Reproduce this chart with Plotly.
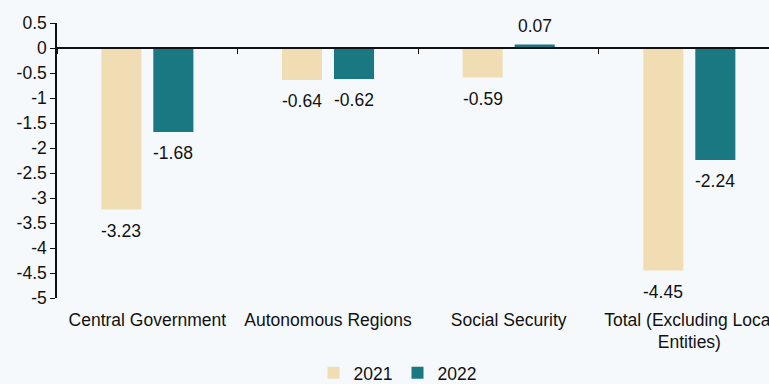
import plotly.graph_objects as go

categories = ["Central Government", "Autonomous Regions", "Social Security",
              "Total (Excluding Local<br>Entities)"]
values_2021 = [-3.23, -0.64, -0.59, -4.45]
values_2022 = [-1.68, -0.62, 0.07, -2.24]
y_ticks = [0.5, 0, -0.5, -1, -1.5, -2, -2.5, -3, -3.5, -4, -4.5, -5]

C2021 = "#F0DDB4"
C2022 = "#1A7883"
BG = "#F6F9FB"
FONT = "Liberation Sans, Arial, sans-serif"
FS = 17.5

fig = go.Figure()
fig.add_trace(go.Bar(x=categories, y=values_2021, name="2021",
                     marker=dict(color=C2021, line=dict(width=0))))
fig.add_trace(go.Bar(x=categories, y=values_2022, name="2022",
                     marker=dict(color=C2022, line=dict(width=0))))
# helper trace so the zero-crossing axis is drawn
fig.add_trace(go.Scatter(x=[0], y=[0], xaxis="x2", mode="markers",
                         marker=dict(opacity=0), showlegend=False,
                         hoverinfo="skip"))

x_max = 3.441
# value labels under / over each bar end
for vals, shift in ((values_2021, -26), (values_2022, 26)):
    for cat, v in zip(categories, vals):
        fig.add_annotation(x=cat, y=v, xshift=shift,
                           yshift=19 if v >= 0 else -21,
                           text=f"{v:.2f}", showarrow=False,
                           font=dict(family=FONT, size=FS, color="#111"))

fig.update_layout(
    width=769, height=384,
    margin=dict(l=57, r=0, t=23, b=86, autoexpand=False),
    paper_bgcolor=BG, plot_bgcolor=BG,
    barmode="group", bargap=0.424, bargroupgap=0.23,
    font=dict(family=FONT, size=FS, color="#111"),
    xaxis=dict(type="category", range=[-0.5, x_max], showline=False,
               ticks="", showgrid=False, zeroline=False, automargin=False,
               tickfont=dict(size=FS), ticklabelstandoff=9),
    xaxis2=dict(overlaying="x", anchor="free", position=5 / 5.5,
                range=[-0.5, x_max], showline=True, linecolor="#111",
                linewidth=1.5, ticks="outside", ticklen=5, tickwidth=1.3,
                tickcolor="#111", tickmode="array",
                tickvals=[-0.5, 0.5, 1.5, 2.5, 3.5], automargin=False,
                showticklabels=False, showgrid=False, zeroline=False),
    yaxis=dict(range=[-5, 0.5], tickmode="array", tickvals=y_ticks,
               ticktext=[f"{t:g}" for t in y_ticks], automargin=False,
               showline=True, linecolor="#111", linewidth=1.5,
               ticks="outside", ticklen=5, tickwidth=1.3, tickcolor="#111",
               showgrid=False, zeroline=False, tickfont=dict(size=FS)),
    legend=dict(orientation="h", xref="container", x=0.517, xanchor="center",
                yref="paper", y=-0.272, yanchor="middle",
                font=dict(size=FS), itemwidth=30,
                tracegroupgap=0, bgcolor="rgba(0,0,0,0)"),
    showlegend=True,
)

fig.write_html("out.html")
